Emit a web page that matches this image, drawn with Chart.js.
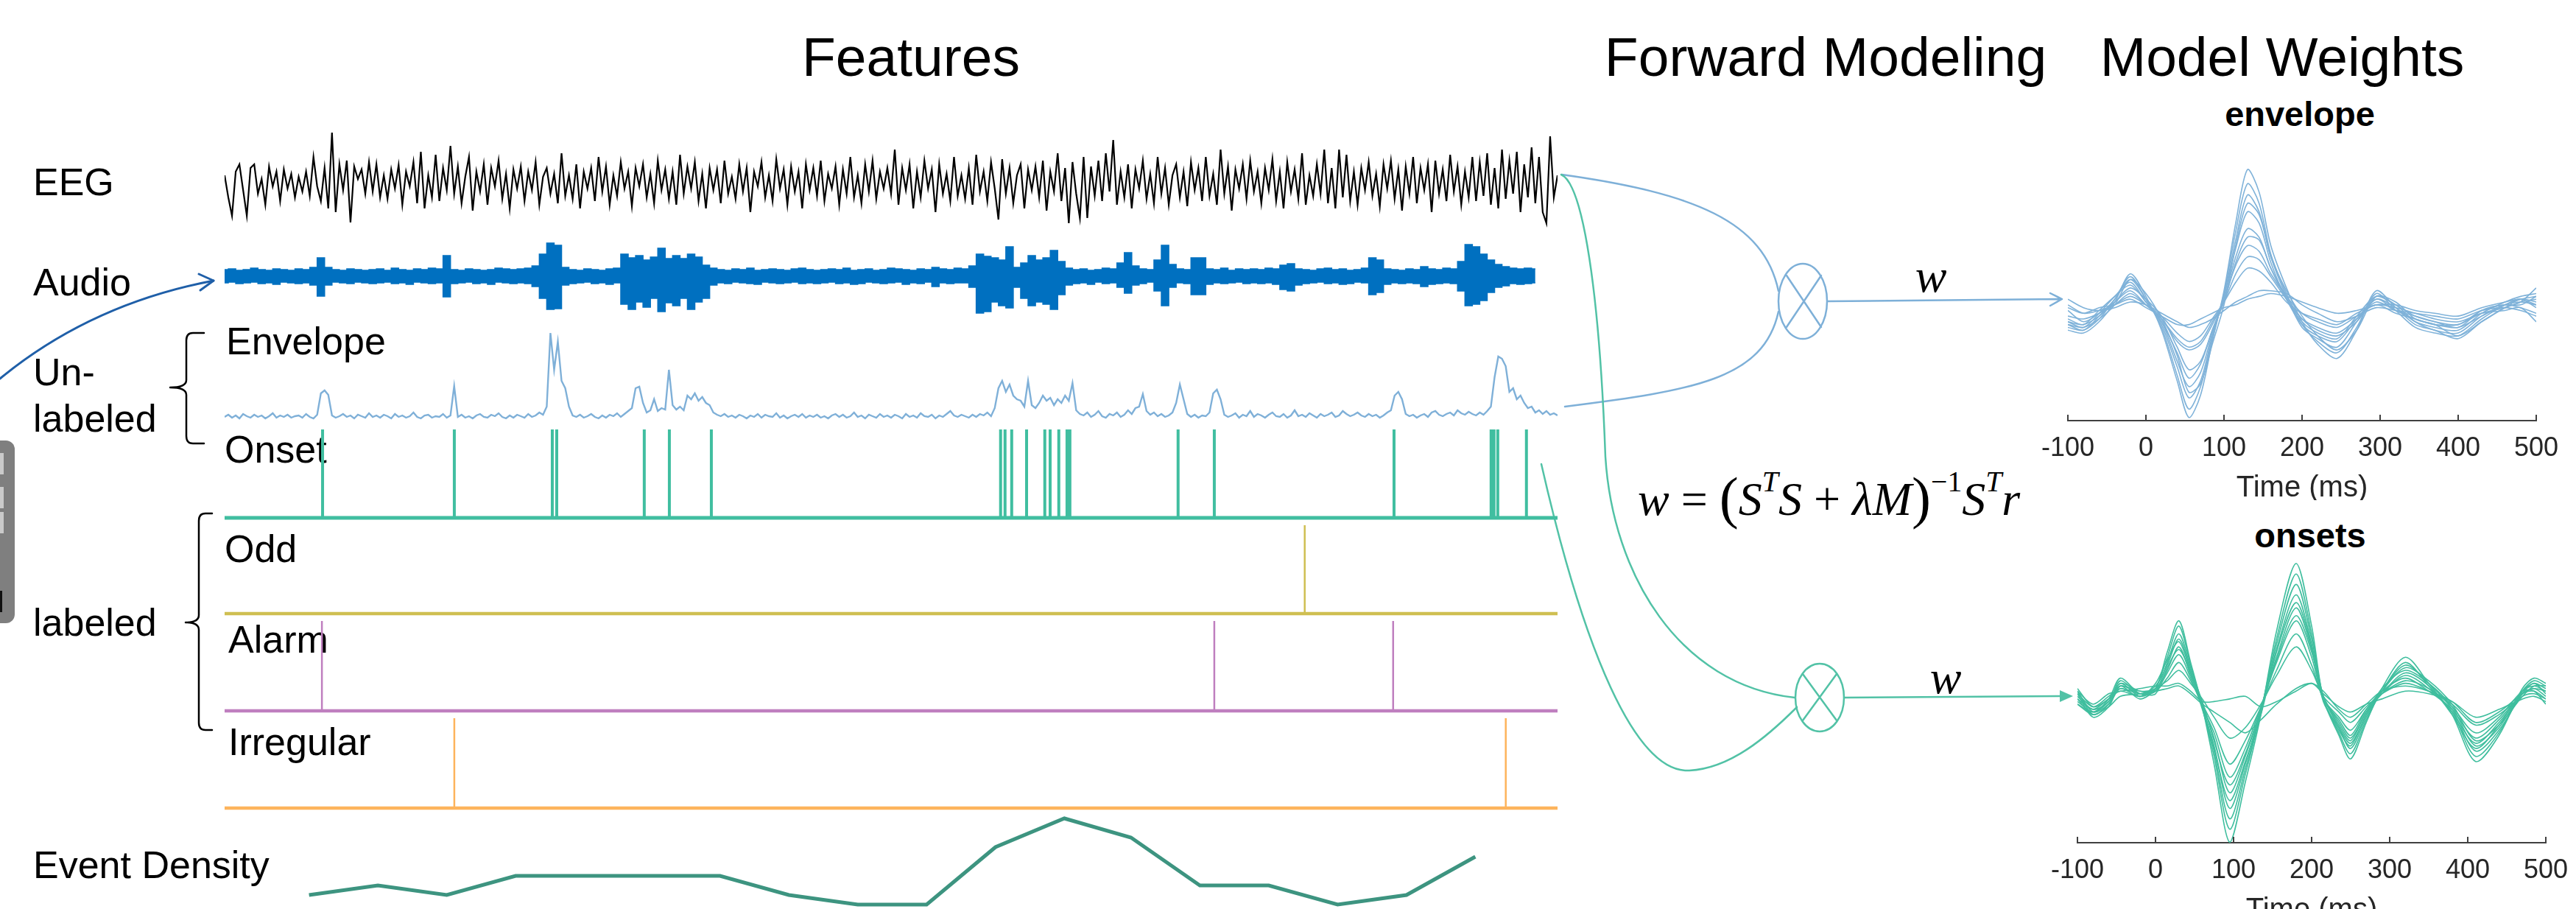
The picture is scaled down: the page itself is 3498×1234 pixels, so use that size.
<!DOCTYPE html>
<html>
<head>
<meta charset="utf-8">
<script src="https://cdn.jsdelivr.net/npm/chart.js@4.4.1/dist/chart.umd.min.js"></script>
<style>
html,body{margin:0;padding:0;background:#fff;}
#stage{position:relative;width:3498px;height:1234px;overflow:hidden;font-family:"Liberation Sans",Arial,sans-serif;}
.t{position:absolute;white-space:nowrap;line-height:1;color:#000;}
.c{transform:translateX(-50%);}
.h{font-size:75px;}
.l{font-size:52px;}
.b{font-size:47px;font-weight:bold;}
.m{font-family:"Liberation Serif","Times New Roman",serif;font-size:64px;}
.m sup{font-size:0.62em;vertical-align:0;position:relative;top:-0.8em;}
.m .p{font-size:1.22em;position:relative;top:0.04em;}
canvas{position:absolute;}
svg{position:absolute;left:0;top:0;}
</style>
</head>
<body>
<div id="stage">
  <div class="t h c" style="left:1237px;top:40px">Features</div>
  <div class="t h c" style="left:2479px;top:40px">Forward Modeling</div>
  <div class="t h c" style="left:3099px;top:40px">Model Weights</div>

  <div class="t l" style="left:45px;top:221px">EEG</div>
  <div class="t l" style="left:45px;top:357px">Audio</div>
  <div class="t l" style="left:45px;top:479px">Un-</div>
  <div class="t l" style="left:45px;top:542px">labeled</div>
  <div class="t l" style="left:307px;top:437px">Envelope</div>
  <div class="t l" style="left:305px;top:584px">Onset</div>
  <div class="t l" style="left:305px;top:719px">Odd</div>
  <div class="t l" style="left:45px;top:819px">labeled</div>
  <div class="t l" style="left:310px;top:842px">Alarm</div>
  <div class="t l" style="left:310px;top:981px">Irregular</div>
  <div class="t l" style="left:45px;top:1148px">Event Density</div>

  <div class="t b c" style="left:3123px;top:131px">envelope</div>
  <div class="t b c" style="left:3137px;top:703px">onsets</div>

  <div class="t m c" style="left:2622px;top:343px"><i>w</i></div>
  <div class="t m c" style="left:2642px;top:888px"><i>w</i></div>
  <div class="t m" style="left:2224px;top:634px"><i>w</i> = <span class="p">(</span><i>S</i><sup><i>T</i></sup><i>S</i> + <i>λM</i><span class="p">)</span><sup>−1</sup><i>S</i><sup><i>T</i></sup><i>r</i></div>

  <svg width="3498" height="1234" viewBox="0 0 3498 1234">
    <rect x="-40" y="598" width="60" height="248" rx="12" fill="#7f7f7f"/>
    <rect x="-20" y="615" width="25" height="29" fill="#cacaca"/>
    <rect x="-20" y="661" width="25" height="29" fill="#cacaca"/>
    <rect x="-20" y="695" width="25" height="29" fill="#cacaca"/>
    <rect x="-10" y="802" width="13" height="29" fill="#111"/>
    <g fill="none" stroke-linecap="round" stroke-linejoin="round">
      <path d="M0,514 C90,440 190,400 290,381" stroke="#1f5fa8" stroke-width="3"/>
      <path d="M270,372 L290,381 L272,394" stroke="#1f5fa8" stroke-width="3"/>
      <path d="M277,452 L262,452 Q253,452 253,462 L253,516 Q253,526 231,526 Q253,526 253,536 L253,592 Q253,602 262,602 L277,602" stroke="#000" stroke-width="2.5"/>
      <path d="M288,697 L279,697 Q270,697 270,707 L270,835 Q270,845 252,845 Q270,845 270,855 L270,981 Q270,991 279,991 L288,991" stroke="#000" stroke-width="2.5"/>
      <path d="M2121,237 C2300,262 2395,300 2415,395" stroke="#7eb0d8" stroke-width="2.5"/>
      <path d="M2125,552 C2300,530 2395,515 2415,423" stroke="#7eb0d8" stroke-width="2.5"/>
      <ellipse cx="2448" cy="409" rx="33" ry="51" stroke="#7eb0d8" stroke-width="2.5"/>
      <path d="M2426,374 L2473,444 M2473,374 L2426,444" stroke="#7eb0d8" stroke-width="2.5"/>
      <path d="M2482,409 L2800,406 M2784,398 L2800,406 L2784,415" stroke="#7eb0d8" stroke-width="2.5"/>
      <path d="M2120,237 C2150,250 2172,400 2180,620 C2190,780 2280,930 2437,947" stroke="#52c2a6" stroke-width="2.5"/>
      <path d="M2093,630 C2150,880 2220,1050 2294,1046 C2350,1043 2400,1000 2440,960" stroke="#52c2a6" stroke-width="2.5"/>
      <ellipse cx="2471" cy="947" rx="33" ry="46" stroke="#52c2a6" stroke-width="2.5"/>
      <path d="M2448,915 L2494,978 M2494,915 L2448,978" stroke="#52c2a6" stroke-width="2.5"/>
      <path d="M2504,947 L2800,945" stroke="#52c2a6" stroke-width="2.5"/>
    </g>
    <polygon points="2815,945 2797,937 2797,953" fill="#52c2a6"/>
  </svg>
</div>
<script>
// recording time axis, seconds
const recLength = 60;
const eegStep = 1 / 6;
const envStep = 1 / 6;
const audioStep = 1 / 3;

const eeg = [
  10,-20,-45,15,25,-10,-45,20,25,-15,5,-30,22,-5,15,-25,18,-8,12,-20,
  8,-12,15,-18,35,-5,-25,20,-35,68,-40,25,-10,30,-54,22,5,18,-15,28,
  -12,25,-20,10,-22,18,-8,24,-30,15,-5,28,-28,42,-35,10,-20,38,-25,20,
  -10,50,-15,22,-28,8,35,-38,15,-12,25,-30,20,-5,30,-22,12,-35,18,-8,
  22,-25,15,-10,28,-30,8,20,-15,12,-28,40,-18,10,-22,25,-35,15,-8,20,
  -25,35,-12,22,-30,10,-18,28,-8,15,-32,20,-5,25,-20,12,-28,30,-10,18,
  -22,15,-30,38,-15,22,-8,28,-25,12,-35,20,-10,18,-28,30,-15,8,-22,25,
  -12,20,-40,15,-5,28,-20,10,-25,32,-8,18,-30,22,-12,15,-35,25,-10,20,
  -18,30,-25,12,-8,22,-30,18,-15,35,-20,10,-28,25,-12,30,-22,15,-8,20,
  -15,45,-30,20,-10,25,-35,15,-20,30,-8,18,-40,25,-15,12,-25,35,-18,10,
  -22,20,-30,38,-12,15,-25,28,-8,-50,32,-15,20,-28,10,25,-35,18,-10,22,
  -20,30,-38,15,-12,40,-25,20,-55,28,-15,-48,35,-48,22,-18,30,-25,40,-12,
  58,-30,15,-20,25,-35,18,-8,30,-22,12,-28,35,-15,20,-30,10,25,-20,15,
  -32,28,-10,20,-25,35,-18,12,-30,45,-15,22,-38,18,-8,25,-22,30,-12,15,
  -28,20,-10,32,-25,15,-35,28,-12,18,-22,40,-30,10,-18,25,-15,45,-28,20,
  -35,45,-20,38,-25,15,-30,20,-10,28,-18,12,-32,25,-8,30,-22,18,-38,22,
  -15,35,-28,20,-10,25,-40,30,-15,18,-25,38,-12,22,-30,15,-20,35,-25,28,
  -18,40,-30,20,-35,45,-22,30,-15,42,-40,25,-20,48,-28,35,-40,-55,63,-20,
  10
];

const audioUpper = [
  9,10,8,9,11,9,8,10,9,8,10,9,12,25,12,9,8,10,9,8,
  9,10,8,11,9,8,10,9,11,10,28,9,8,10,9,8,9,11,10,9,
  10,11,14,30,45,42,12,9,8,10,9,8,10,11,30,25,28,22,26,38,
  24,28,24,30,26,15,11,9,8,10,9,11,8,9,10,9,8,10,11,9,
  8,9,10,9,11,8,9,10,8,9,11,10,9,8,10,9,12,10,9,11,
  10,14,30,27,25,22,40,12,18,28,22,25,35,20,11,9,10,8,9,11,
  10,18,32,14,10,9,22,42,16,10,9,25,25,10,9,11,8,10,9,10,
  9,11,10,15,17,10,9,8,10,11,9,10,8,9,11,25,22,10,9,8,
  10,9,13,10,9,11,10,20,43,40,30,22,16,13,11,10,11,10
];
const audioLower = [
  9,8,10,9,8,10,9,11,8,9,10,9,12,27,12,8,9,10,8,9,
  10,9,8,10,9,11,8,9,10,9,28,10,9,8,10,9,11,8,9,10,
  9,10,14,30,45,44,12,10,9,8,10,9,11,9,38,45,35,42,30,48,
  36,40,30,45,35,30,12,9,10,8,9,10,11,8,9,10,9,8,10,9,
  10,9,8,10,9,11,10,8,9,10,9,8,11,9,10,8,14,9,10,9,
  9,15,50,48,35,40,43,15,30,40,35,38,45,25,12,10,9,11,8,10,
  9,15,23,12,10,8,20,40,15,9,10,25,25,11,9,10,9,8,10,9,
  10,9,11,18,20,12,10,9,8,10,9,11,10,8,9,25,22,11,9,10,
  9,10,14,11,10,9,10,20,40,38,33,22,15,13,10,11,10,9
];

const envelope = [
  6,9,5,8,4,10,7,5,9,6,8,4,7,11,5,8,6,9,5,7,
  8,5,10,6,4,9,38,42,36,8,5,7,10,6,8,4,9,7,5,11,
  6,8,5,9,7,4,10,6,8,5,7,12,6,4,8,9,5,7,6,10,
  5,8,48,6,9,5,7,4,8,10,6,5,9,7,11,6,4,8,5,9,
  7,5,10,6,8,12,9,20,120,70,108,55,45,20,8,6,9,5,7,10,
  6,4,8,5,9,7,11,6,10,14,18,45,47,25,12,15,30,14,18,16,
  70,22,16,20,15,35,30,38,28,33,25,22,12,9,7,10,6,8,5,9,
  7,4,8,6,10,5,9,7,6,11,5,8,4,7,9,6,10,5,8,6,
  9,5,7,4,8,10,6,9,5,7,12,6,8,4,9,7,5,10,6,8,
  5,9,7,4,10,6,8,5,11,7,6,9,4,8,6,10,14,8,6,9,
  7,5,9,6,10,8,12,7,18,45,55,40,50,35,30,28,20,55,22,18,
  25,35,28,32,22,30,25,35,28,52,15,10,8,12,6,9,14,7,5,10,
  8,12,6,9,15,10,18,20,37,14,9,12,7,10,6,8,12,25,50,30,
  10,6,9,5,8,7,12,38,43,30,9,6,8,11,5,9,7,14,6,10,
  8,5,9,12,7,6,10,5,8,15,7,9,6,11,8,5,10,7,9,12,
  6,8,14,10,7,9,12,8,6,10,7,9,5,8,12,15,35,40,30,10,
  7,9,5,8,10,6,12,14,9,7,10,12,8,15,11,9,13,10,8,12,
  9,14,20,60,88,85,75,40,45,30,35,25,18,20,12,15,10,14,9,11,
  8
];

const onsetTimes = [4.41, 10.34, 14.75, 14.95, 18.89, 20.02, 21.91, 34.93, 35.13, 35.43,
  36.1, 36.92, 37.16, 37.55, 37.92, 38.05, 42.92, 44.55, 52.64, 57.01, 57.14, 57.31, 58.6];
const oddTimes = [48.62];
const alarmTimes = [4.38, 44.55, 52.6];
const irregularTimes = [10.34, 57.67];

const densityTimes = [3.8, 6.9, 10.0, 13.1, 16.2, 19.2, 22.3, 25.4, 28.5, 31.6, 34.7, 37.8, 40.8, 43.9, 47.0, 50.1, 53.2, 56.3];
const density = [2, 3, 2, 4, 4, 4, 4, 2, 1, 1, 7, 10, 8, 3, 3, 1, 2, 6];

// model weights, lag in ms
const lagTicks = [-100, 0, 100, 200, 300, 400, 500];
const envLags = [-100,-80,-60,-40,-20,0,20,40,55,70,85,100,115,130,145,160,180,200,220,245,270,295,320,345,370,400,430,460,480,500];
const envWeights = [
  [-0.6,-0.7,-0.3,0.4,1.4,0.6,-0.6,-2.4,-3.7,-2.9,-1.0,0.8,3.2,5.1,4.3,2.4,0.9,-0.3,-1.1,-1.6,-0.6,0.8,0.2,-0.4,-0.6,-0.9,-0.3,0.2,0.4,0.9],
  [-0.5,-0.6,-0.2,0.5,1.3,0.5,-0.5,-2.2,-3.4,-2.6,-0.9,0.7,2.9,4.6,3.9,2.1,0.7,-0.4,-1.0,-1.4,-0.5,0.7,0.1,-0.5,-0.7,-0.8,-0.2,0.3,0.5,0.6],
  [-0.4,-0.6,-0.1,0.5,1.2,0.5,-0.4,-1.9,-3.0,-2.4,-0.8,0.6,2.6,4.2,3.6,2.0,0.6,-0.5,-0.9,-1.2,-0.3,0.6,0.3,-0.3,-0.6,-0.7,-0.1,0.3,0.4,0.3],
  [-0.3,-0.5,0.0,0.6,1.1,0.4,-0.3,-1.7,-2.6,-2.1,-0.7,0.6,2.3,3.6,3.2,1.8,0.5,-0.4,-0.8,-1.0,-0.2,0.5,0.2,-0.3,-0.5,-0.6,0.0,0.4,0.6,0.7],
  [-0.2,-0.4,0.1,0.6,1.0,0.4,-0.3,-1.4,-2.3,-1.8,-0.6,0.5,2.0,3.0,2.7,1.6,0.6,-0.2,-0.6,-0.8,-0.3,0.5,0.1,-0.2,-0.4,-0.5,-0.1,0.3,0.5,0.2],
  [0.1,-0.3,0.0,0.4,0.8,0.3,-0.2,-1.0,-1.3,-1.1,-0.4,0.5,1.7,2.4,2.2,1.4,0.6,0.0,-0.3,-0.5,-0.1,0.3,0.0,-0.2,-0.4,-0.4,0.0,0.2,0.4,0.5],
  [-0.1,-0.2,0.0,0.3,0.7,0.3,-0.2,-0.9,-1.2,-1.0,-0.3,0.4,1.4,2.0,1.9,1.3,0.5,-0.2,-0.5,-0.7,-0.2,0.4,0.1,-0.1,-0.3,-0.5,0.1,0.3,0.2,0.0],
  [0.3,0.0,0.1,0.3,0.6,0.3,-0.1,-0.7,-1.0,-0.8,-0.2,0.4,1.1,1.6,1.5,1.1,0.4,0.0,-0.2,-0.4,0.0,0.3,0.2,0.0,-0.2,-0.3,0.0,0.1,0.2,-0.3],
  [0.5,0.2,0.1,0.2,0.4,0.3,0.0,-0.3,-0.5,-0.4,-0.2,0.1,0.4,0.6,0.8,0.8,0.7,0.3,0.0,-0.3,-0.1,0.2,0.1,0.0,-0.1,-0.2,0.1,0.2,0.1,-0.1],
  [0.2,0.0,0.2,0.3,0.5,0.2,-0.1,-0.4,-0.4,-0.2,0.0,0.2,0.3,0.5,0.6,0.7,0.6,0.4,0.2,0.0,0.1,0.3,0.3,0.1,0.0,-0.1,0.2,0.4,0.5,0.3],
  [-0.4,-0.5,-0.2,0.3,1.2,0.7,-0.2,-1.5,-2.8,-2.5,-1.1,0.3,2.4,3.9,3.5,2.0,0.8,-0.1,-0.8,-1.3,-0.6,0.6,0.4,-0.2,-0.4,-0.8,-0.3,0.2,0.5,0.4],
  [-0.3,-0.4,-0.1,0.4,0.9,0.5,-0.1,-1.2,-2.0,-1.7,-0.6,0.4,1.8,2.7,2.6,1.6,0.5,-0.3,-0.7,-0.9,-0.1,0.6,0.3,-0.1,-0.3,-0.4,0.1,0.3,0.3,0.6]
];
const onsLags = [-100,-80,-60,-45,-20,0,15,30,45,60,75,95,115,135,155,180,200,215,235,250,270,290,320,350,380,410,440,470,485,500];
const onsWeights = [
  [0.3,-0.6,-0.2,0.6,0.1,0.4,1.8,3.0,1.4,-0.3,-2.5,-5.5,-3.2,-0.6,2.6,5.2,2.8,0.0,-1.4,-2.3,-0.9,0.4,1.6,0.6,-0.6,-2.4,-1.4,0.4,0.8,0.6],
  [0.2,-0.7,-0.3,0.5,0.0,0.4,1.6,2.8,1.3,-0.3,-2.2,-5.0,-2.9,-0.5,2.3,4.8,2.5,0.0,-1.3,-2.1,-0.8,0.3,1.4,0.5,-0.5,-2.2,-1.3,0.3,0.7,0.5],
  [-0.2,-0.5,0.0,0.8,0.2,0.3,1.4,2.5,1.2,-0.2,-2.0,-4.6,-2.7,-0.5,2.1,4.4,2.3,0.1,-1.1,-1.9,-0.7,0.3,1.3,0.6,-0.4,-2.0,-1.2,0.2,0.6,0.2],
  [0.1,-0.4,-0.1,0.7,0.2,0.5,1.3,2.3,1.1,-0.3,-1.8,-4.2,-2.5,-0.4,1.9,4.0,2.1,0.0,-1.2,-1.8,-0.6,0.2,1.0,0.5,-0.6,-1.9,-1.0,0.3,0.5,0.3],
  [0.4,-0.3,0.0,0.5,0.3,0.4,1.1,2.0,0.9,-0.2,-1.5,-3.6,-2.2,-0.4,1.6,3.5,1.9,0.1,-1.0,-1.6,-0.5,0.2,0.9,0.4,-0.5,-1.7,-0.9,0.2,0.4,0.1],
  [-0.1,-0.5,-0.1,0.6,0.3,0.3,1.0,1.7,0.8,-0.3,-1.3,-3.0,-1.9,-0.3,1.4,3.0,1.6,0.0,-0.8,-1.4,-0.4,0.3,0.8,0.3,-0.4,-1.5,-0.8,0.2,0.3,0.0],
  [0.2,-0.3,0.1,0.4,0.2,0.3,0.8,1.4,0.7,-0.2,-1.1,-2.5,-1.6,-0.3,1.1,2.5,1.3,0.0,-0.7,-1.2,-0.4,0.2,0.7,0.4,-0.3,-1.3,-0.7,0.3,0.3,-0.2],
  [0.0,-0.4,0.0,0.3,0.1,0.4,0.7,1.1,0.6,0.0,-0.7,-1.5,-1.1,-0.2,0.9,2.0,1.1,0.1,-0.5,-0.9,-0.3,0.2,0.6,0.3,-0.2,-1.0,-0.6,0.1,0.2,0.0],
  [0.3,-0.2,0.2,0.3,0.4,0.5,0.5,0.6,0.3,-0.1,-0.1,0.0,0.1,-0.3,-0.1,0.3,0.6,0.2,-0.3,-0.5,-0.2,0.0,0.3,0.2,-0.1,-0.7,-0.4,0.0,0.1,-0.1],
  [-0.2,-0.6,-0.3,0.1,0.2,0.3,0.4,0.5,0.2,-0.2,-0.5,-0.9,-1.3,-0.8,-0.2,0.4,0.6,0.3,-0.4,-0.7,-0.2,0.3,0.5,0.3,-0.1,-0.9,-0.5,0.2,0.4,0.3],
  [0.3,-0.5,-0.2,0.4,0.1,0.6,1.5,2.2,1.0,-0.4,-1.9,-3.9,-2.4,-0.6,1.8,3.7,2.0,-0.1,-1.1,-1.7,-0.6,0.4,1.1,0.6,-0.3,-1.8,-1.1,0.3,0.6,0.4],
  [0.0,-0.6,-0.2,0.5,0.2,0.2,1.2,1.9,1.0,-0.1,-1.6,-3.3,-2.1,-0.4,1.5,3.2,1.8,0.1,-0.9,-1.5,-0.5,0.3,1.2,0.7,-0.2,-1.6,-1.0,0.1,0.5,0.5]
];

Chart.defaults.font.family = '"Liberation Sans", Arial, sans-serif';
Chart.defaults.elements.point.radius = 0;

const stage = document.getElementById('stage');
function canvasAt(left, top, w, h) {
  const c = document.createElement('canvas');
  c.width = w; c.height = h;
  c.style.left = left + 'px'; c.style.top = top + 'px';
  c.style.width = w + 'px'; c.style.height = h + 'px';
  stage.appendChild(c);
  return c;
}

const baseOptions = {
  responsive: false, animation: false, events: [],
  plugins: { legend: { display: false }, tooltip: { enabled: false } }
};

const rowLeft = 305, rowWidth = 1810;
function row(top, h, ymin, ymax, datasets) {
  return new Chart(canvasAt(rowLeft, top, rowWidth, h), {
    type: 'line',
    data: { datasets },
    options: Object.assign({}, baseOptions, {
      layout: { padding: 0 },
      scales: {
        x: { type: 'linear', display: false, min: 0, max: recLength },
        y: { display: false, min: ymin, max: ymax }
      }
    })
  });
}
const series = (vals, step) => vals.map((v, i) => ({ x: i * step, y: v }));
const spikes = times => times.flatMap(t => [{ x: t, y: 0 }, { x: t, y: 1 }, { x: t, y: null }]);

// EEG
row(173, 150, -75, 75, [{ data: series(eeg, eegStep), borderColor: '#000', borderWidth: 2.2, tension: 0 }]);

// audio waveform as a filled band between its upper and lower edge
row(320, 110, -55, 55, [
  { data: series(audioUpper, audioStep), borderColor: '#0070c0', backgroundColor: '#0070c0', borderWidth: 1.5, stepped: 'middle', fill: '+1' },
  { data: series(audioLower.map(v => -v), audioStep), borderColor: '#0070c0', borderWidth: 1.5, stepped: 'middle', fill: false }
]);

// envelope
row(440, 140, -8, 132, [{ data: series(envelope, envStep), borderColor: '#7fb0d8', borderWidth: 2.4 }]);

// event rows: baseline y and spike height in px
function track(times, baseY, unit, color, baseW, spikeW) {
  const pad = 15;
  row(baseY - unit - pad, unit + 2 * pad, -pad / unit, (unit + pad) / unit, [
    { data: spikes(times), borderColor: color, borderWidth: spikeW, spanGaps: false },
    { data: [{ x: 0, y: 0 }, { x: recLength, y: 0 }], borderColor: color, borderWidth: baseW }
  ]);
}
track(onsetTimes, 703, 120, '#40bea0', 5, 4);
track(oddTimes, 833, 120, '#cfbf52', 4.5, 2.5);
track(alarmTimes, 965, 122, '#bf7fbf', 4.5, 2.5);
track(irregularTimes, 1097, 122, '#fdb45c', 4.5, 2.5);

// event density
row(1085, 156, 0, 12, [{
  data: densityTimes.map((t, i) => ({ x: t, y: density[i] })),
  borderColor: '#3d9480', borderWidth: 5, borderJoinStyle: 'miter'
}]);

// inward tick marks like matlab
const inwardTicks = {
  id: 'inwardTicks',
  afterDraw(chart) {
    const s = chart.scales.x, ctx = chart.ctx;
    ctx.save();
    ctx.strokeStyle = '#404040';
    ctx.lineWidth = 2;
    s.ticks.forEach(t => {
      const px = s.getPixelForValue(t.value);
      ctx.beginPath();
      ctx.moveTo(px, s.top);
      ctx.lineTo(px, s.top - 8);
      ctx.stroke();
    });
    ctx.restore();
  }
};

function weights(left, top, h, ymin, ymax, lags, curves, color) {
  return new Chart(canvasAt(left, top, 743, h), {
    type: 'line',
    data: {
      datasets: curves.map(c => ({
        data: c.map((v, i) => ({ x: lags[i], y: v })),
        borderColor: color, borderWidth: 1.6, tension: 0.3
      }))
    },
    options: Object.assign({}, baseOptions, {
      layout: { padding: { left: 50, right: 51, top: 0, bottom: 0 } },
      scales: {
        x: {
          type: 'linear', min: -100, max: 500,
          afterBuildTicks: s => { s.ticks = lagTicks.map(v => ({ value: v })); },
          grid: { display: false, drawTicks: false },
          border: { display: true, color: '#404040', width: 2 },
          ticks: { color: '#262626', font: { size: 36, lineHeight: 1 }, padding: 20, maxRotation: 0, autoSkip: false },
          title: { display: true, text: 'Time (ms)', color: '#262626', font: { size: 40, lineHeight: 0.8 }, padding: 0 }
        },
        y: { display: false, min: ymin, max: ymax }
      }
    }),
    plugins: [inwardTicks]
  });
}
weights(2752, 215, 464, -3.81, 5.5, envLags, envWeights, '#7fb2d9');
weights(2765, 758, 494, -5.52, 5.4, onsLags, onsWeights, '#3fbe9e');
</script>
</body>
</html>
